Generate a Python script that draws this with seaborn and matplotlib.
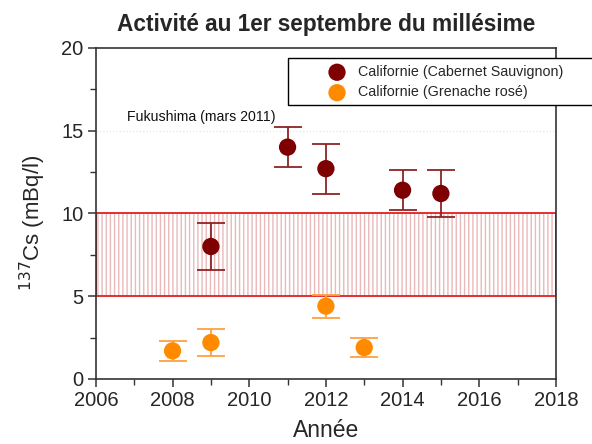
import matplotlib
matplotlib.use("Agg")
import matplotlib.pyplot as plt
import seaborn as sns
import pandas as pd
from matplotlib.patches import Rectangle
from matplotlib.ticker import MultipleLocator

# Data
cab_years = [2009, 2011, 2012, 2014, 2015]
cab_values = [8.0, 14.0, 12.7, 11.4, 11.2]
cab_err = [1.4, 1.2, 1.5, 1.2, 1.4]

gren_years = [2008, 2009, 2012, 2013]
gren_values = [1.7, 2.2, 4.4, 1.9]
gren_err = [0.6, 0.8, 0.7, 0.6]

band_low, band_high = 5, 10
fukushima_level = 15

label_cab = "Californie (Cabernet Sauvignon)"
label_gren = "Californie (Grenache rosé)"

sns.set_style("white")
plt.rcParams['font.family'] = ['Liberation Sans', 'DejaVu Sans']

W, H = 592, 444
fig = plt.figure(figsize=(5.92, 4.44), dpi=100)
ax = fig.add_axes([0.162, 0.1464, 0.777, 0.746])

c_cab = "#7f0000"
c_cab_err = "#8e2323"
c_gren = "#ff8a00"
c_gren_err = "#ffa040"

# band
ax.add_patch(Rectangle((2006, band_low), 12, band_high - band_low, facecolor="none",
                       edgecolor="#e8baba", hatch="||||", linewidth=0, zorder=1))
ax.add_patch(Rectangle((2006, band_low), 12, band_high - band_low, facecolor="none",
                       edgecolor="#e02020", linewidth=1.3, zorder=2))

ax.axhline(fukushima_level, color="#e0e0e0", linestyle=(0, (1, 2)), linewidth=0.8, zorder=1)
ax.text(2006.8, 15.85, "Fukushima (mars 2011)", fontsize=10.2, color="#111111", va="center")

df_cab = pd.DataFrame({"year": cab_years, "val": cab_values, "err": cab_err})
df_gren = pd.DataFrame({"year": gren_years, "val": gren_values, "err": gren_err})

ax.errorbar(df_cab["year"], df_cab["val"], yerr=df_cab["err"], fmt="none",
            ecolor=c_cab_err, elinewidth=1.3, capsize=10, capthick=1.3, zorder=3)
ax.errorbar(df_gren["year"], df_gren["val"], yerr=df_gren["err"], fmt="none",
            ecolor=c_gren_err, elinewidth=1.3, capsize=10, capthick=1.3, zorder=3)

sns.scatterplot(data=df_cab, x="year", y="val", ax=ax, color=c_cab, s=155,
                edgecolor="none", label=label_cab, zorder=4)
sns.scatterplot(data=df_gren, x="year", y="val", ax=ax, color=c_gren, s=155,
                edgecolor="none", label=label_gren, zorder=4)

ax.set_xlim(2006, 2018)
ax.set_ylim(0, 20)
ax.xaxis.set_major_locator(MultipleLocator(2))
ax.xaxis.set_minor_locator(MultipleLocator(1))
ax.yaxis.set_major_locator(MultipleLocator(5))
ax.yaxis.set_minor_locator(MultipleLocator(2.5))
ax.tick_params(which="major", direction="out", length=6, width=1.1, labelsize=14.5,
               bottom=True, left=True, color="#333333", pad=3)
ax.tick_params(which="minor", direction="out", length=4, width=1.0,
               bottom=True, left=True, color="#333333")

for s in ax.spines.values():
    s.set_color("#333333")
    s.set_linewidth(1.2)
    s.set_visible(True)

ax.set_xlabel("Année", fontsize=16.5, labelpad=6)
ax.set_ylabel("$^{137}$Cs (mBq/l)", fontsize=16)
ax.yaxis.set_label_coords(-0.105, 0.47)
ax.set_title("Activité au 1er septembre du millésime", fontsize=16.3, fontweight="bold", pad=12)

# legend frame (extends past the right edge of the figure, as in the reference)
frame = Rectangle((288 / W, 1 - 105 / H), 0.6, (105 - 58) / H, transform=fig.transFigure,
                  facecolor="white", edgecolor="black", linewidth=1.0, zorder=9,
                  clip_on=False)
ax.add_artist(frame)

leg = ax.legend(loc="upper left", bbox_to_anchor=((337 - 14.3) / W, 1 - 65 / H),
                bbox_transform=fig.transFigure, fontsize=10.3, frameon=False,
                borderpad=0, handletextpad=0.47, labelspacing=0.45, markerscale=1.0,
                borderaxespad=0, handlelength=2.0)
leg.set_zorder(10)

fig.savefig("out.png", dpi=100)
